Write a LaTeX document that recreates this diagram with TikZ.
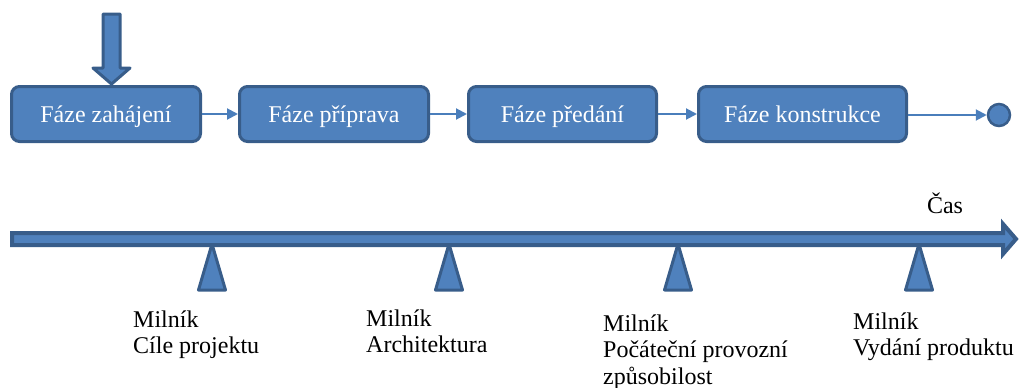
\documentclass[tikz,border=0pt]{standalone}
\usepackage{fontspec}
\setmainfont{Liberation Serif}
\newfontfamily\labelface{Liberation Serif}
\usetikzlibrary{arrows.meta}
\definecolor{phasefill}{HTML}{4F81BD}
\definecolor{phaseline}{HTML}{385D8A}
\definecolor{linkblue}{HTML}{4A7EBB}
\begin{document}
\begin{tikzpicture}[x=1pt,y=-1pt,
  phase/.style={draw=phaseline,fill=phasefill,line width=3pt,rounded corners=8pt,
    minimum height=55pt,text=white,text height=17pt,text depth=1pt,inner sep=0pt,
    font=\labelface\fontsize{24}{26.5}\selectfont},
  link/.style={draw=linkblue,line width=2pt,-{Triangle[length=11pt,width=11pt]}},
  endmark/.style={circle,draw=phaseline,fill=phasefill,line width=2.5pt,minimum size=22pt,inner sep=0pt},
  blockshape/.style={draw=phaseline,fill=phasefill,line join=round},
  milestone/.style={anchor=base west,inner sep=0pt,font=\labelface\fontsize{24}{26.5}\selectfont}]
\useasboundingbox (0,0) rectangle (1020,388);

% start arrow pointing into the first phase
\path[blockshape,line width=3pt] (103,14) -- (120,14) -- (120,68) -- (130,68) -- (111.5,84)
  -- (93,68) -- (103,68) -- cycle;

% phases
\node[phase,minimum width=189pt] (b1) at (106,114) {Fáze zahájení};
\node[phase,minimum width=189pt] (b2) at (334,114) {Fáze příprava};
\node[phase,minimum width=188pt] (b3) at (562.5,114) {Fáze předání};
\node[phase,minimum width=208pt] (b4) at (802.5,114) {Fáze konstrukce};
\node[endmark] (end) at (999,115) {};

\draw[link] (b1) -- (b2);
\draw[link] (b2) -- (b3);
\draw[link] (b3) -- (b4);
\draw[link] (b4.east |- end) -- (end);

% milestone markers
\foreach \mx in {212,449,678,919}
  \path[blockshape,line width=3pt] (\mx,244) -- (\mx+13.5,290) -- (\mx-13.5,290) -- cycle;

% time axis
\path[blockshape,line width=4pt,line join=miter] (12,233) -- (1003,233) -- (1003,224)
  -- (1016,239) -- (1003,254) -- (1003,245) -- (12,245) -- cycle;
\node[milestone,anchor=base] (cas) at (945,213) {Čas};

% milestone labels
\node[milestone] (l1) at (133,327) {\vtop{\hbox{Milník}\hbox{Cíle projektu}}};
\node[milestone] (l2) at (366,326) {\vtop{\hbox{Milník}\hbox{Architektura}}};
\node[milestone] (l3) at (603,331) {\vtop{\hbox{Milník}\hbox{Počáteční provozní}\hbox{způsobilost}}};
\node[milestone] (l4) at (853,329) {\vtop{\hbox{Milník}\hbox{Vydání produktu}}};
\end{tikzpicture}
\end{document}
